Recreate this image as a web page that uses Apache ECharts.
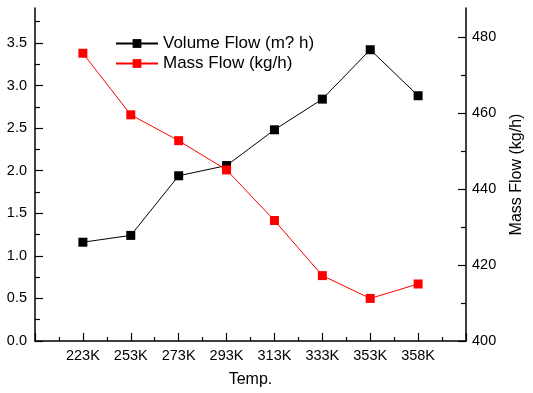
<!DOCTYPE html>
<html><head><meta charset="utf-8">
<script src="https://cdn.jsdelivr.net/npm/echarts@6/dist/echarts.min.js"></script>
<style>html,body{margin:0;padding:0;background:#fff;overflow:hidden}#c{width:533px;height:393px;}</style>
</head><body><div id="c"></div>
<script>
const categories = ['223K','253K','273K','293K','313K','333K','353K','358K'];
const volumeFlow = [1.16, 1.24, 1.94, 2.06, 2.48, 2.84, 3.42, 2.88];
const massFlow = [475.7, 459.5, 452.7, 445.0, 431.7, 417.2, 411.2, 415.0];
const leftTicks = [0, 0.5, 1, 1.5, 2, 2.5, 3, 3.5];
const rightTicks = [400, 420, 440, 460, 480];
const volumeName = 'Volume Flow (m? h)';
const massName = 'Mass Flow (kg/h)';
const xName = 'Temp.';

const leftMinor = leftTicks.map(v => v + 0.25);
const rightMinor = rightTicks.slice(0, -1).map((v, i) => (v + rightTicks[i + 1]) / 2);

const FONT = 'Liberation Sans, Arial, sans-serif';
const axisLine = { show: true, lineStyle: { color: '#000', width: 1.5 } };

const chart = echarts.init(document.getElementById('c'), null, { renderer: 'canvas' });
chart.setOption({
  animation: false,
  backgroundColor: '#fff',
  textStyle: { fontFamily: FONT },
  grid: { left: 35, right: 59, top: 8, bottom: 51, containLabel: false },
  legend: {
    orient: 'vertical', left: 115, top: 35, padding: 0,
    itemWidth: 42, itemHeight: 11, itemGap: 3,
    textStyle: { fontSize: 17, color: '#000', fontFamily: FONT },
    data: [volumeName, massName]
  },
  xAxis: {
    type: 'value', min: 0, max: categories.length + 1, interval: 1,
    name: xName, nameLocation: 'middle', nameGap: 31,
    nameTextStyle: { fontSize: 16, color: '#000', fontFamily: FONT },
    axisLine: axisLine,
    axisTick: { show: true, inside: true, length: 8, lineStyle: { color: '#000', width: 1.2 } },
    minorTick: { show: true, splitNumber: 2, length: 4, lineStyle: { color: '#000', width: 1.2 } },
    splitLine: { show: false },
    axisLabel: { margin: 7, fontSize: 14.5, color: '#000', fontFamily: FONT,
      formatter: v => categories[v - 1] || '' }
  },
  yAxis: [
    { type: 'value', position: 'left', min: 0, max: 3.91,
      axisLine: axisLine,
      axisTick: { show: true, inside: true, length: 8, customValues: leftTicks, lineStyle: { color: '#000', width: 1.2 } },
      axisLabel: { customValues: leftTicks, margin: 8, fontSize: 14.5, color: '#000', fontFamily: FONT,
        formatter: v => Number(v).toFixed(1) },
      splitLine: { show: false } },
    { type: 'value', position: 'left', min: 0, max: 3.91,
      axisLine: { show: false },
      axisTick: { show: true, inside: true, length: 5, customValues: leftMinor, lineStyle: { color: '#000', width: 1.2 } },
      axisLabel: { show: false }, splitLine: { show: false } },
    { type: 'value', position: 'right', min: 400, max: 487.6,
      name: massName, nameLocation: 'middle', nameGap: 43, nameRotate: 90,
      nameTextStyle: { fontSize: 16, color: '#000', fontFamily: FONT },
      axisLine: axisLine,
      axisTick: { show: true, inside: true, length: 8, customValues: rightTicks, lineStyle: { color: '#000', width: 1.2 } },
      axisLabel: { customValues: rightTicks, margin: 6, fontSize: 14.5, color: '#000', fontFamily: FONT },
      splitLine: { show: false } },
    { type: 'value', position: 'right', min: 400, max: 487.6,
      axisLine: { show: false },
      axisTick: { show: true, inside: true, length: 5, customValues: rightMinor, lineStyle: { color: '#000', width: 1.2 } },
      axisLabel: { show: false }, splitLine: { show: false } }
  ],
  series: [
    { name: volumeName, type: 'line', yAxisIndex: 0,
      data: volumeFlow.map((v, i) => [i + 1, v]),
      symbol: 'rect', symbolSize: 9,
      lineStyle: { color: '#000', width: 1 }, itemStyle: { color: '#000' } },
    { name: massName, type: 'line', yAxisIndex: 2,
      data: massFlow.map((v, i) => [i + 1, v]),
      symbol: 'rect', symbolSize: 9,
      lineStyle: { color: '#ff0000', width: 1 }, itemStyle: { color: '#ff0000' } }
  ]
});
</script></body></html>
